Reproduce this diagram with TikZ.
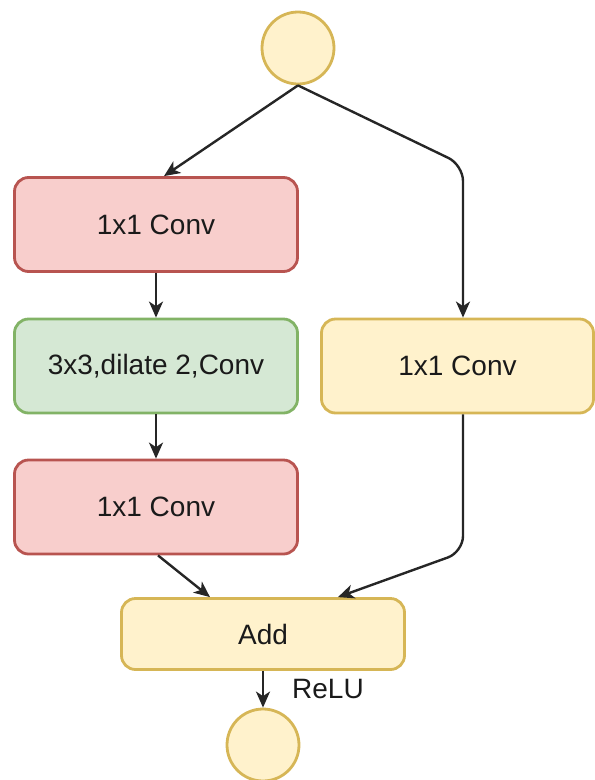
\documentclass[tikz,border=0pt]{standalone}
\usepackage{fontspec}
\setmainfont{Liberation Sans}
\usetikzlibrary{arrows.meta}
\definecolor{redfill}{HTML}{F8CECC}
\definecolor{redline}{HTML}{B85450}
\definecolor{greenfill}{HTML}{D5E8D4}
\definecolor{greenline}{HTML}{82B366}
\definecolor{yelfill}{HTML}{FFF2CC}
\definecolor{yelline}{HTML}{D6B656}
\definecolor{txt}{HTML}{1A1A1A}
\begin{document}
\begin{tikzpicture}[x=1pt,y=-1pt,
  box/.style={rectangle, rounded corners=14pt, line width=2.8pt, minimum width=283pt, minimum height=94pt, inner sep=0pt, font=\fontsize{28}{34}\selectfont, text=txt},
  redbox/.style={box, draw=redline, fill=redfill},
  greenbox/.style={box, draw=greenline, fill=greenfill},
  yelbox/.style={box, draw=yelline, fill=yelfill},
  dot/.style={circle, draw=yelline, fill=yelfill, line width=2.8pt, minimum size=72pt, inner sep=0pt},
  arr/.style={draw=black!85, line width=2.4pt, -{Stealth[length=16pt,width=14pt,inset=4.5pt]}},
  lbl/.style={font=\fontsize{28}{34}\selectfont, text=txt, inner sep=0pt}
]
\useasboundingbox (0,0) rectangle (595,780);
\node[dot] (top) at (298,48) {};
\node[redbox] (b1) at (156,224.5) {1x1 Conv};
\node[greenbox] (b2) at (156,366) {3x3,dilate 2,Conv};
\node[redbox] (b3) at (156,507) {1x1 Conv};
\node[yelbox, minimum width=272pt] (rb) at (457.5,366) {1x1 Conv};
\node[yelbox, minimum height=71pt] (add) at (263,634) {Add};
\node[dot] (bot) at (263,745) {};
\node[lbl, anchor=west] (relu) at (292,689) {ReLU};
\coordinate (c1) at (463,165);
\coordinate (c2) at (463,552);
\draw[arr] (top.south) -- ([xshift=8pt]b1.north);
\draw[arr, rounded corners=16pt] (top.south) -- (c1) -- ([xshift=5.5pt]rb.north);
\draw[arr] (b1) -- (b2);
\draw[arr] (b2) -- (b3);
\draw[arr] ([xshift=2pt]b3.south) -- ([xshift=-53pt]add.north);
\draw[arr, rounded corners=16pt] ([xshift=5.5pt]rb.south) -- (c2) -- ([xshift=75pt]add.north);
\draw[arr] (add) -- (bot);
\end{tikzpicture}
\end{document}
